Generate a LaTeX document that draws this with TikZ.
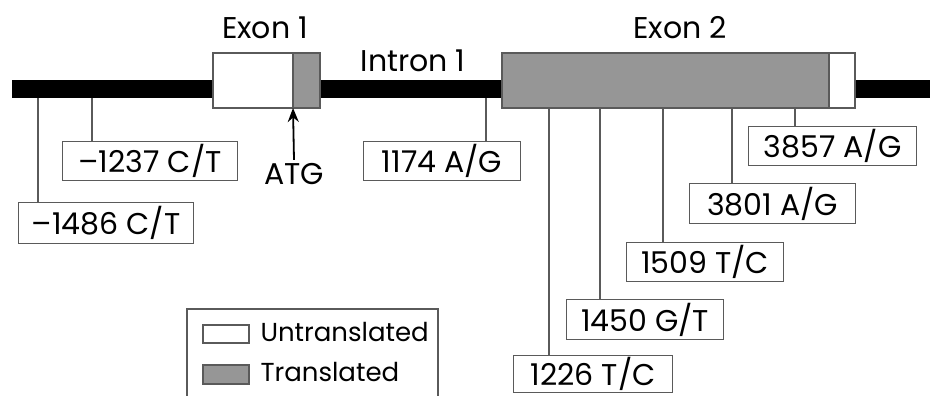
\documentclass[tikz,border=0pt]{standalone}
\usepackage{fontspec}
\setmainfont{Poppins}
\usetikzlibrary{arrows.meta, positioning}
\definecolor{transgray}{RGB}{150,150,150}
\definecolor{linegray}{RGB}{90,90,90}
\tikzset{
  snpbox/.style={rectangle, draw=linegray, line width=1.2pt, fill=white,
    anchor=north west, inner sep=0pt, align=center},
  tieline/.style={draw=linegray, line width=1.1pt},
  exonpart/.style={draw=linegray, line width=1.2pt},
  genetext/.style={font=\fontsize{30}{34}\selectfont},
  legendtext/.style={font=\fontsize{26}{30}\selectfont, anchor=west},
}
\begin{document}
\begin{tikzpicture}[x=1pt, y=-1pt, genetext]
  \clip (0,0) rectangle (930,396);
  \fill[white] (0,0) rectangle (930,396);

  % gene backbone
  \draw[line width=18pt] (12,89) -- (930,89);

  % exons
  \filldraw[exonpart, fill=white] (213,53) rectangle (293,108);
  \filldraw[exonpart, fill=transgray] (293,53) rectangle (320,108);
  \filldraw[exonpart, fill=transgray] (502,53) rectangle (829,108);
  \filldraw[exonpart, fill=white] (829,53) rectangle (855,108);

  \node (exon1) at (265,28) {Exon 1};
  \node (intron1) at (413,61) {Intron 1};
  \node (exon2) at (680,28) {Exon 2};

  % start codon
  \coordinate (atgtip) at (293,108);
  \node (atg) at (294,174) {ATG};
  \draw[-{Stealth[length=14pt, width=11pt]}, line width=1.8pt] (atg.north) -- (atgtip);

  % polymorphism positions
  \coordinate (p1486) at (38,98);
  \coordinate (p1237) at (92,98);
  \coordinate (p1174) at (486,98);
  \coordinate (p1226) at (549,108);
  \coordinate (p1450) at (600,108);
  \coordinate (p1509) at (663,108);
  \coordinate (p3801) at (732,108);
  \coordinate (p3857) at (795,108);

  \node[snpbox, minimum width=175pt, minimum height=41pt] (m1486) at (18,202) {\textendash1486 C/T};
  \node[snpbox, minimum width=175pt, minimum height=39pt] (m1237) at (62,141) {\textendash1237 C/T};
  \node[snpbox, minimum width=157pt, minimum height=39pt] (s1174) at (363,141) {1174 A/G};
  \node[snpbox, minimum width=159pt, minimum height=37pt] (s1226) at (513,355) {1226 T/C};
  \node[snpbox, minimum width=157pt, minimum height=40pt] (s1450) at (566,299) {1450 G/T};
  \node[snpbox, minimum width=157pt, minimum height=39pt] (s1509) at (626,242) {1509 T/C};
  \node[snpbox, minimum width=166pt, minimum height=40pt] (s3801) at (689,183) {3801 A/G};
  \node[snpbox, minimum width=168pt, minimum height=39pt] (s3857) at (748,126) {3857 A/G};

  \foreach \p/\b in {p1486/m1486, p1237/m1237, p1174/s1174, p1226/s1226,
                     p1450/s1450, p1509/s1509, p3801/s3801, p3857/s3857}
    \draw[tieline] (\p) -- (\p |- \b.north);

  % legend
  \draw[line width=1.2pt, draw=linegray] (187,309) rectangle (438,400);
  \filldraw[exonpart, fill=white] (203,325) rectangle (249,343);
  \filldraw[exonpart, fill=transgray] (203,365) rectangle (249,384);
  \node[legendtext] (untrans) at (257,332) {Untranslated};
  \node[legendtext] (trans) at (257,372) {Translated};
\end{tikzpicture}
\end{document}
